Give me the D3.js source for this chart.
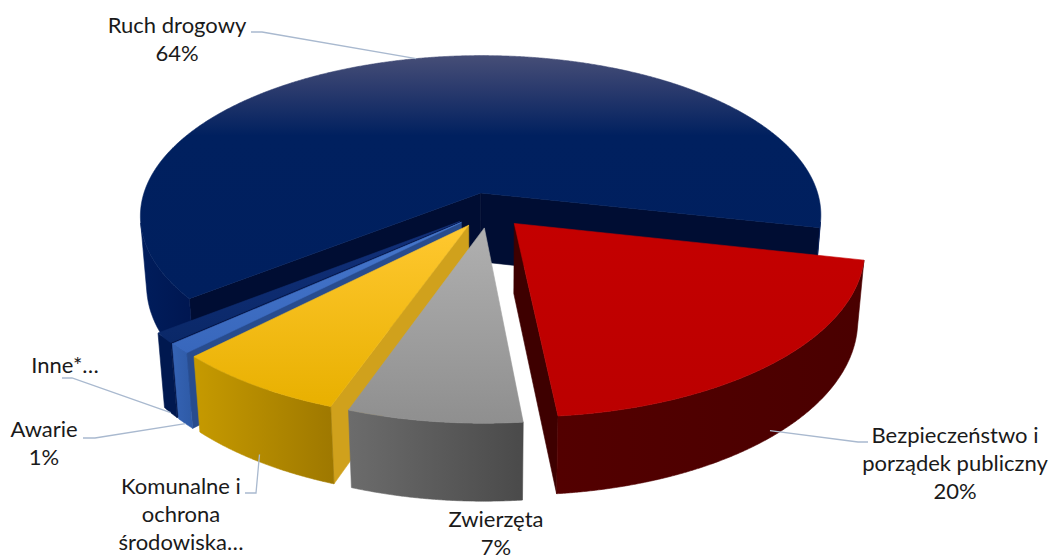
<!DOCTYPE html>
<html>
<head>
<meta charset="utf-8">
<script src="https://d3js.org/d3.v7.min.js"></script>
<style>
  body { margin: 0; background: #fff; }
  svg text { font-family: Lato, "Open Sans", sans-serif; fill: #1a1a1a; }
</style>
</head>
<body>
<script>
// --- data ---
const categories = ["Ruch drogowy", "Bezpieczeństwo i porządek publiczny", "Zwierzęta",
                    "Komunalne i ochrona środowiska", "Awarie", "Inne*"];
const shares = [64, 20, 7, 7, 1, 1];
// label text as it is wrapped / cut in the chart
const labelNames = [["Ruch drogowy"], ["Bezpieczeństwo i", "porządek publiczny"], ["Zwierzęta"],
                    ["Komunalne i", "ochrona", "środowiska…"], ["Awarie"], ["Inne*…"]];
const showPercent = [true, true, true, false, true, false];

// --- style / layout ---
const palette = [
  {wallL: "#001d5c", wallR: "#001650", cut: "#000d33"},
  {wallL: "#530000", wallR: "#4a0000", cut: "#3e0000"},
  {wallL: "#6c6c6c", wallR: "#4a4a4a", cut: "#7c7c7c"},
  {wallL: "#c69a00", wallR: "#9e7800", cut: "#d0a11c"},
  {wallL: "#3563b4", wallR: "#2e5aa6", cut: "#284c8e"},
  {wallL: "#00184f", wallR: "#00184f", cut: "#001040"}
];
const topGrad = [
  [[0, "#464e77"], [0.14, "#2a3a6d"], [0.33, "#00205f"], [1, "#001f5e"]],
  [[0, "#c40000"], [1, "#bb0000"]],
  [[0, "#b0b0b0"], [1, "#8f8f8f"]],
  [[0, "#ffc830"], [1, "#e8b000"]],
  [[0, "#4677cc"], [1, "#3867bc"]],
  [[0, "#12307a"], [1, "#0a2868"]]
];
// label anchor (x, first baseline) and leader line (start, elbow) + rim height fraction
const labelPos = [[177, 33], [955, 443], [496, 527], [181, 494], [44, 437], [65, 373]];
const leaders = [
  {from: [251, 32], elbow: [262, 32], hf: 0},
  {from: [868, 442], elbow: [858, 442], hf: 0.9},
  null,
  {from: [245, 493], elbow: [256, 493], hf: 0.9},
  {from: [83, 438], elbow: [95, 438], hf: 1},
  {from: [62, 378], elbow: [72, 378], hf: 1}
];

const width = 1053, height = 560;
const cx = 489, cy = 210, S = 342;
const tilt = 28.2 * Math.PI / 180, D = 6.14, thick = 0.235, explode = 0.11;
const startDeg = 232;

const svg = d3.select("body").append("svg")
  .attr("width", width).attr("height", height);
const defs = svg.append("defs");

const cam = [0, D * Math.sin(tilt), D * Math.cos(tilt)];
function project(X, Y, Z) {
  const dz = Z * Math.cos(tilt) + Y * Math.sin(tilt);
  const s = D / (D - dz);
  return [cx + S * s * X, cy - S * s * (Y * Math.cos(tilt) - Z * Math.sin(tilt))];
}
function facing(n, p) {
  return n[0] * (cam[0] - p[0]) + n[1] * (cam[1] - p[1]) + n[2] * (cam[2] - p[2]) > 0;
}
function camDist(pts) {
  const c = [0, 1, 2].map(k => d3.mean(pts, p => p[k]));
  return Math.hypot(cam[0] - c[0], cam[1] - c[1], cam[2] - c[2]);
}
const line = d3.line();

const a0 = startDeg * Math.PI / 180;
const arcs = d3.pie().sort(null).value(d => d)
  .startAngle(a0).endAngle(a0 + 2 * Math.PI)(shares);

const step = 0.25 * Math.PI / 180;
const sideFaces = [], topFaces = [];

arcs.forEach((a, i) => {
  const mid = (a.startAngle + a.endAngle) / 2;
  const ox = explode * Math.sin(mid), oz = -explode * Math.cos(mid);
  a.ox = ox; a.oz = oz; a.mid = mid;
  const rim = (t, y) => [ox + Math.sin(t), y, oz - Math.cos(t)];
  const n = Math.max(2, Math.ceil((a.endAngle - a.startAngle) / step));
  const ts = d3.range(n + 1).map(k => a.startAngle + (a.endAngle - a.startAngle) * k / n);

  // top face
  topFaces.push({i, kind: "top", pts: [[ox, 0, oz]].concat(ts.map(t => rim(t, 0)))});

  // cut faces at both radii
  [[a.startAngle, -1], [a.endAngle, 1]].forEach(([t, sg]) => {
    const pts = [[ox, 0, oz], rim(t, 0), rim(t, -thick), [ox, -thick, oz]];
    const nrm = [sg * Math.cos(t), 0, sg * Math.sin(t)];
    if (facing(nrm, [ox, -thick / 2, oz])) sideFaces.push({i, kind: "cut", pts});
  });

  // outer wall, visible runs only
  let run = [];
  const flush = () => {
    if (run.length > 1) {
      const pts = run.map(t => rim(t, 0)).concat(run.slice().reverse().map(t => rim(t, -thick)));
      sideFaces.push({i, kind: "wall", pts});
    }
    run = [];
  };
  ts.forEach(t => {
    if (facing([Math.sin(t), 0, -Math.cos(t)], rim(t, -thick / 2))) run.push(t); else flush();
  });
  flush();
});

sideFaces.forEach(f => f.d = camDist(f.pts));
sideFaces.sort((p, q) => q.d - p.d);

// gradients
palette.forEach((c, i) => {
  const g = defs.append("linearGradient").attr("id", "wall" + i)
    .attr("x1", 0).attr("y1", 0).attr("x2", 1).attr("y2", 0);
  g.append("stop").attr("offset", 0).attr("stop-color", c.wallL);
  g.append("stop").attr("offset", 1).attr("stop-color", c.wallR);
});
topGrad.forEach((st, i) => {
  const g = defs.append("linearGradient").attr("id", "top" + i)
    .attr("x1", 0).attr("y1", 0).attr("x2", 0).attr("y2", 1);
  st.forEach(([o, c]) => g.append("stop").attr("offset", o).attr("stop-color", c));
});

const fillOf = f => f.kind === "top" ? `url(#top${f.i})`
  : f.kind === "wall" ? `url(#wall${f.i})` : palette[f.i].cut;

svg.append("g").selectAll("path")
  .data(sideFaces.concat(topFaces))
  .join("path")
  .attr("d", f => line(f.pts.map(p => project(...p))) + "Z")
  .attr("fill", fillOf)
  .attr("stroke", fillOf)
  .attr("stroke-width", 0.6)
  .attr("stroke-linejoin", "round");

// leader lines
const pct = d3.format(".0%");
const total = d3.sum(shares);
svg.append("g").selectAll("path")
  .data(arcs.filter((a, i) => leaders[i]))
  .join("path")
  .attr("d", a => {
    const L = leaders[a.index];
    const end = project(a.ox + Math.sin(a.mid), -thick * L.hf, a.oz - Math.cos(a.mid));
    return line([L.from, L.elbow, end]);
  })
  .attr("fill", "none")
  .attr("stroke", "#a9b9cf")
  .attr("stroke-width", 1.3);

// labels
const lab = svg.append("g").selectAll("text")
  .data(arcs)
  .join("text")
  .attr("text-anchor", "middle")
  .attr("font-size", 22)
  .attr("transform", a => `translate(${labelPos[a.index][0]},${labelPos[a.index][1]})`);
lab.selectAll("tspan")
  .data(a => labelNames[a.index].concat(showPercent[a.index] ? [pct(a.value / total)] : []))
  .join("tspan")
  .attr("x", 0)
  .attr("y", (d, k) => k * 28.2)
  .text(d => d);
</script>
</body>
</html>
